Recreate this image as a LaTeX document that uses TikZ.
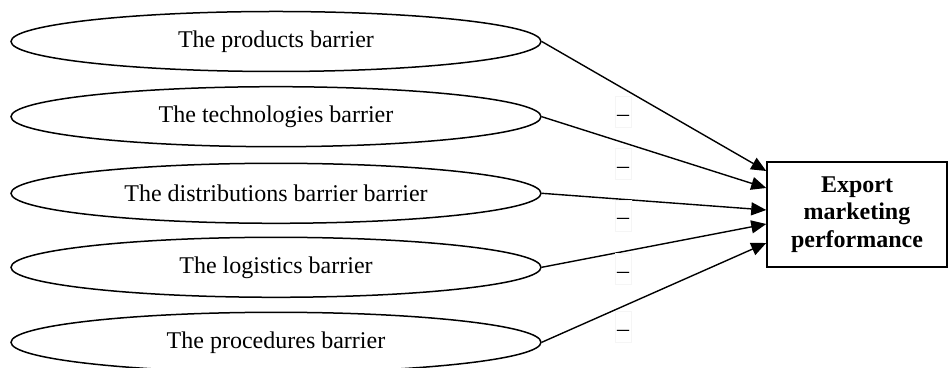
\documentclass[tikz,border=0pt]{standalone}
\usepackage{fontspec}
\setmainfont{Liberation Serif}
\usetikzlibrary{shapes.geometric, arrows.meta}

\begin{document}
\begin{tikzpicture}[x=0.5pt, y=0.5pt, >={Triangle[length=7.5pt, width=6.5pt]},
		barrier/.style={ellipse, draw, line width=0.75pt, inner sep=0pt, minimum width=265pt, minimum height=30pt, font=\fontsize{12pt}{13.75pt}\selectfont},
		outcome/.style={rectangle, draw, line width=0.75pt, minimum width=90pt, minimum height=52.5pt, align=center, font=\fontsize{12pt}{13.75pt}\selectfont\bfseries},
		minus/.style={draw=black!4, inner sep=0pt, minimum width=8pt, minimum height=15.5pt, text height=9.2pt, text depth=0pt, font=\fontsize{12pt}{13.75pt}\selectfont},
		link/.style={->, line width=0.7pt}]
		\useasboundingbox (0,0) rectangle (948,368);

		\node[barrier] (products) at (276, 326.5) {The products barrier};
		\node[barrier] (technologies) at (276, 251.3) {The technologies barrier};
		\node[barrier] (distributions) at (276, 174.7) {The distributions barrier barrier};
		\node[barrier] (logistics) at (276, 100.7) {The logistics barrier};
		\node[barrier] (procedures) at (276, 25.7) {The procedures barrier};

		\node[outcome] (performance) at (857, 153.5) {Export\\marketing\\performance};

		\draw[link] (products.east) -- ([yshift=21.75pt]performance.west);
		\draw[link] (technologies.east) -- ([yshift=13.25pt]performance.west);
		\draw[link] (distributions.east) -- ([yshift=2.25pt]performance.west);
		\draw[link] (logistics.east) -- ([yshift=-4.75pt]performance.west);
		\draw[link] (procedures.east) -- ([yshift=-14.25pt]performance.west);

		% signs of the paths
		\node[minus] (sign1) at (623, 255.8) {–};
		\node[minus] (sign2) at (623, 204) {–};
		\node[minus] (sign3) at (623, 152.5) {–};
		\node[minus] (sign4) at (623, 98.8) {–};
		\node[minus] (sign5) at (623, 40.8) {–};
	\end{tikzpicture}
\end{document}
